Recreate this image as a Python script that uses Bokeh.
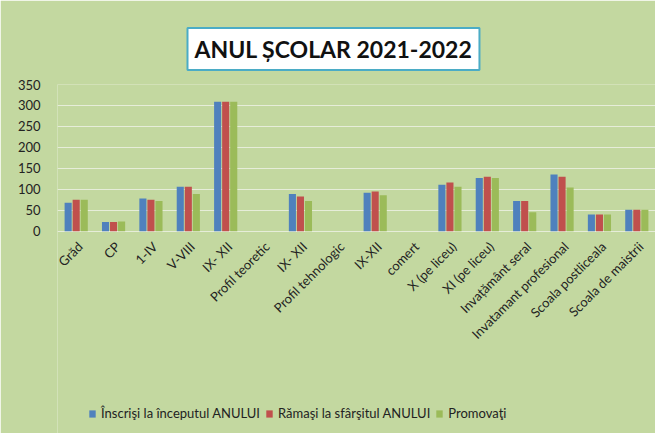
import math
from bokeh.plotting import figure
from bokeh.models import (ColumnDataSource, FixedTicker, Legend, LegendItem, Title, Range1d)
from bokeh.core.properties import value
from bokeh.embed import file_html
from bokeh.resources import INLINE

categories = ["Grăd", "CP", "1-IV", "V-VIII", "IX- XII", "Profil teoretic", "IX- XII",
              "Profil tehnologic", "IX-XII", "comert", "X (pe liceu)", "XI (pe liceu)",
              "Invațământ seral", "Invatamant profesional", "Scoala postliceala",
              "Scoala de maistrii"]
inscrisi = [68, 22, 78, 106, 309, 0, 89, 0, 92, 0, 111, 127, 72, 135, 40, 51]
ramasi = [75, 22, 75, 106, 309, 0, 83, 0, 95, 0, 116, 130, 72, 130, 40, 51]
promovati = [75, 23, 72, 89, 309, 0, 72, 0, 86, 0, 106, 127, 45, 104, 40, 51]
series_names = ["Înscrişi la începutul ANULUI", "Rămaşi la sfârşitul ANULUI", "Promovaţi"]
colors = ["#4f81bd", "#c0504d", "#9bbb59"]
y_ticks = [0, 50, 100, 150, 200, 250, 300, 350]
title_text = "ANUL ȘCOLAR 2021-2022"

BG = "#c3d8a0"
FONT = "Lato"

idx = list(range(len(categories)))
# frame extends below zero so the category labels and legend live inside it
p = figure(frame_width=598, frame_height=349, output_backend="svg", toolbar_location=None,
           x_range=Range1d(-0.5, len(categories) - 0.5), y_range=Range1d(-482.7, 350),
           min_border_left=57, min_border_right=0, min_border_top=84, min_border_bottom=0)
p.background_fill_color = BG
p.border_fill_color = BG
p.outline_line_color = None

p.title = Title(text=title_text, align="left", offset=130, standoff=25, vertical_align="top",
                text_font=FONT, text_font_style="bold", text_font_size="23px",
                text_color="#111111", background_fill_color="white",
                border_line_color="#4bacc6", border_line_width=2, padding=7)

offsets = [-0.215, 0.0, 0.215]
renderers = []
for vals, off, col in zip([inscrisi, ramasi, promovati], offsets, colors):
    src = ColumnDataSource(dict(x=[i + off for i in idx], top=vals))
    r = p.vbar(x="x", top="top", width=0.19, bottom=0, source=src,
               fill_color=col, line_color=None)
    renderers.append(r)

# category labels, rotated 45 degrees and ending at each category
lab_src = ColumnDataSource(dict(x=idx, y=[0] * len(idx), text=categories))
p.text(x="x", y="y", text="text", source=lab_src, angle=math.pi / 4,
       text_align="right", text_baseline="middle", x_offset=4, y_offset=13,
       text_font=value(FONT), text_font_size="13px", text_color="#222222")

p.xaxis.visible = False

p.yaxis.ticker = FixedTicker(ticks=y_ticks)
p.yaxis.axis_line_color = None
p.yaxis.major_tick_line_color = None
p.yaxis.minor_tick_line_color = None
p.yaxis.major_label_text_font = FONT
p.yaxis.major_label_text_font_size = "13px"
p.yaxis.major_label_text_color = "#222222"
p.yaxis.major_label_standoff = 11

p.xgrid.grid_line_color = None
p.ygrid.ticker = FixedTicker(ticks=y_ticks)
p.ygrid.grid_line_color = "#e6edd9"
p.ygrid.grid_line_width = 1

legend = Legend(items=[LegendItem(label=n, renderers=[r]) for n, r in zip(series_names, renderers)],
                orientation="horizontal", location=(31, 12),
                background_fill_alpha=0, border_line_color=None,
                label_text_font=FONT, label_text_font_size="13px", label_text_color="#222222",
                glyph_width=8, glyph_height=9, label_standoff=5, spacing=5, padding=0, margin=0)
p.add_layout(legend, "center")

open("out.html", "w").write(file_html(p, INLINE))
